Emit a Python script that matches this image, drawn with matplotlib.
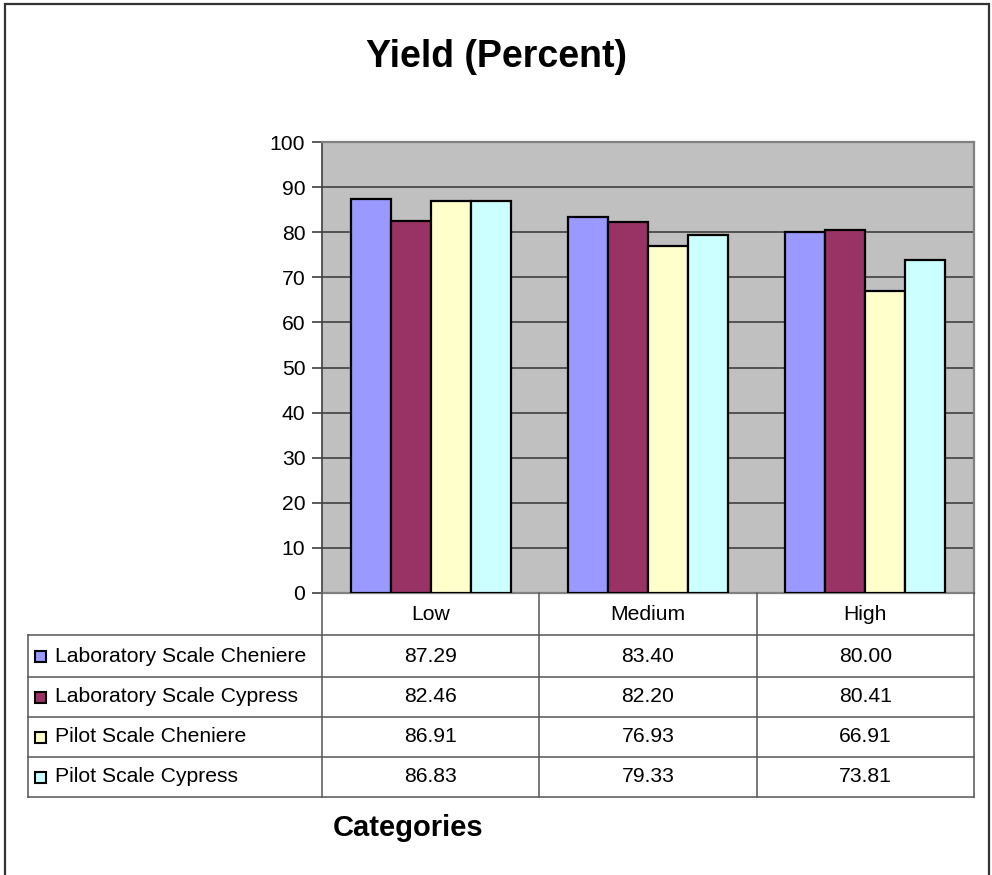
import matplotlib
matplotlib.use("Agg")
import matplotlib.pyplot as plt
from matplotlib.patches import Rectangle
from matplotlib.lines import Line2D
import matplotlib.transforms as mtransforms
import numpy as np

plt.rcParams['font.family'] = ['Liberation Sans', 'DejaVu Sans']

categories = ["Low", "Medium", "High"]
series_names = ["Laboratory Scale Cheniere", "Laboratory Scale Cypress",
                "Pilot Scale Cheniere", "Pilot Scale Cypress"]
lab_cheniere = [87.29, 83.40, 80.00]
lab_cypress = [82.46, 82.20, 80.41]
pilot_cheniere = [86.91, 76.93, 66.91]
pilot_cypress = [86.83, 79.33, 73.81]
series_values = [lab_cheniere, lab_cypress, pilot_cheniere, pilot_cypress]
colors = ["#9999FF", "#993366", "#FFFFCC", "#CCFFFF"]
yticks = list(range(0, 101, 10))

FS = 15.2
W, H = 992, 875
fig = plt.figure(figsize=(W / 100, H / 100), dpi=100)
fig.patch.set_facecolor("white")

# outer border
fig.add_artist(Rectangle((5 / W, -0.05), (989 - 5) / W, 1.05 - 4 / H,
                         transform=fig.transFigure, fill=False,
                         edgecolor="#333333", linewidth=1.6))

L, R, T, B = 322, 974, 142, 593
ax = fig.add_axes([L / W, 1 - B / H, (R - L) / W, (B - T) / H])
ax.set_facecolor("#C0C0C0")

x = np.arange(len(categories))
bw = 40 / ((R - L) / 3)
for k, (vals, c) in enumerate(zip(series_values, colors)):
    ax.bar(x + (k - 1.5) * bw, vals, width=bw, color=c, edgecolor="black",
           linewidth=1.6, zorder=3)

ax.set_xlim(-0.5, len(categories) - 0.5)
ax.set_ylim(0, 100)
ax.set_yticks(yticks)
ax.set_yticklabels([str(t) for t in yticks], fontsize=FS)
ax.set_xticks([])
ax.set_axisbelow(True)
ax.yaxis.grid(True, color="#404040", linewidth=1.2)
ax.tick_params(axis="y", direction="out", length=7, width=1.2, color="#404040", pad=5)
for s in ["top", "right", "bottom"]:
    ax.spines[s].set_color("#808080")
    ax.spines[s].set_linewidth(1.6)
ax.spines["left"].set_color("#404040")
ax.spines["left"].set_linewidth(1.2)

# ---- data table (drawn manually) ----
def fy(py):  # pixel y (from top) -> figure fraction
    return 1 - py / H

def fx(px):
    return px / W

row_edges = [593, 635, 677, 717, 757, 797]
TL = 28
line_kw = dict(color="#555555", linewidth=1.1, transform=fig.transFigure)

for ry in row_edges[1:]:
    fig.add_artist(Line2D([fx(TL), fx(R)], [fy(ry), fy(ry)], **line_kw))
col_bounds = np.arange(len(categories) + 1) - 0.5
bl = mtransforms.blended_transform_factory(ax.transData, fig.transFigure)
for cb in col_bounds:
    fig.add_artist(Line2D([cb, cb], [fy(row_edges[0]), fy(row_edges[-1])],
                          color="#555555", linewidth=1.1, transform=bl))
fig.add_artist(Line2D([fx(TL), fx(TL)], [fy(row_edges[1]), fy(row_edges[-1])], **line_kw))

hy = fy((row_edges[0] + row_edges[1]) / 2)
for i, cat in enumerate(categories):
    ax.text(i, hy, cat, transform=bl, ha="center", va="center", fontsize=FS, clip_on=False)

for k, (name, vals, c) in enumerate(zip(series_names, series_values, colors)):
    cy = fy((row_edges[k + 1] + row_edges[k + 2]) / 2)
    fig.text(fx(55), cy, name, ha="left", va="center", fontsize=FS)
    fig.add_artist(Rectangle((fx(35), cy - 5.5 / H), 11 / W, 11 / H,
                             transform=fig.transFigure, facecolor=c,
                             edgecolor="black", linewidth=1.5))
    for i, v in enumerate(vals):
        ax.text(i, cy, "%.2f" % v, transform=bl, ha="center", va="center",
                fontsize=FS, clip_on=False)

fig.text(497 / W, 1 - 57 / H, "Yield (Percent)", ha="center", va="center",
         fontsize=27, fontweight="bold")
fig.text(408 / W, 1 - 828 / H, "Categories", ha="center", va="center",
         fontsize=21, fontweight="bold")

fig.savefig("out.png", dpi=100)
